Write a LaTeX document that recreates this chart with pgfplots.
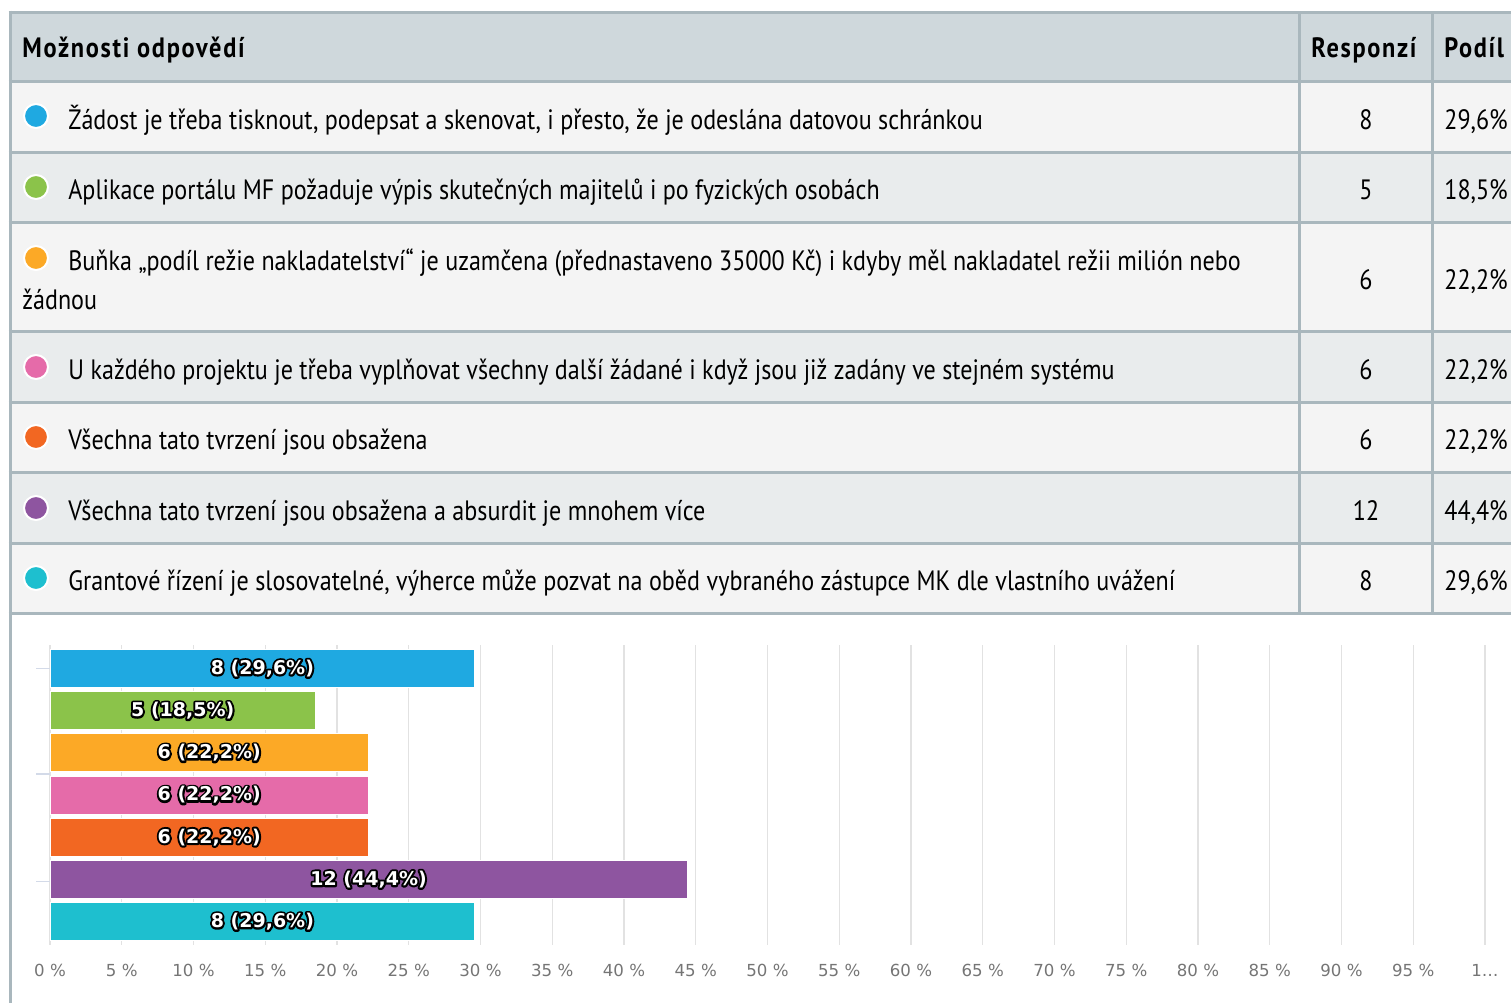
\documentclass[border=0pt]{standalone}
\usepackage{fontspec}
\usepackage{pgfplots}
\pgfplotsset{compat=1.18}
\setmainfont[FakeStretch=0.86]{PT Sans}
\newfontfamily\hdr[FakeStretch=0.87,LetterSpace=6]{PT Sans}
\newfontfamily\djv{DejaVu Sans}
\definecolor{cA}{HTML}{1FA9E1}
\definecolor{cB}{HTML}{8BC34A}
\definecolor{cC}{HTML}{FCA926}
\definecolor{cD}{HTML}{E56BA9}
\definecolor{cE}{HTML}{F26722}
\definecolor{cF}{HTML}{8E55A0}
\definecolor{cG}{HTML}{1EBFCF}
\definecolor{hdrbg}{HTML}{CFD8DC}
\definecolor{rowa}{HTML}{F4F4F4}
\definecolor{rowb}{HTML}{E9ECED}
\definecolor{bord}{HTML}{A9B7BD}
\definecolor{gridc}{HTML}{E2E2E2}
\definecolor{tickc}{HTML}{D3DAE8}
\definecolor{labc}{HTML}{757575}
\newcommand\lbl[1]{\djv\bfseries\makebox[0pt][l]{\special{pdf:literal direct 2 Tr 2 w 1 j}\textcolor{black}{#1}\special{pdf:literal direct 0 Tr}}\textcolor{white}{#1}}
\begin{document}
\begin{tikzpicture}
\begin{scope}[x=0.5pt,y=-0.5pt]
\useasboundingbox (0,0) rectangle (1511,1003);
% backgrounds
\fill[hdrbg] (10,12) rectangle (1511,81);
\fill[rowa] (10,81) rectangle (1511,152);
\fill[rowb] (10,152) rectangle (1511,222);
\fill[rowa] (10,222) rectangle (1511,331);
\fill[rowb] (10,331) rectangle (1511,402);
\fill[rowa] (10,402) rectangle (1511,472);
\fill[rowb] (10,472) rectangle (1511,543);
\fill[rowa] (10,543) rectangle (1511,613);
% borders
\foreach \yy in {12,81,152,222,331,402,472,543,613}{\draw[bord,line width=1.5pt] (8.5,\yy) -- (1511,\yy);}
\draw[bord,line width=1.5pt] (10,10.5) -- (10,1003);
\draw[bord,line width=1.5pt] (1299,12) -- (1299,613);
\draw[bord,line width=1.5pt] (1432,12) -- (1432,613);
% header
\node[anchor=base west,inner sep=0pt,font=\hdr\bfseries\fontsize{14pt}{16pt}\selectfont] at (22,57) {Možnosti odpovědí};
\node[anchor=base west,inner sep=0pt,font=\hdr\bfseries\fontsize{14pt}{16pt}\selectfont] at (1311,57) {Responzí};
\node[anchor=base west,inner sep=0pt,font=\hdr\bfseries\fontsize{14pt}{16pt}\selectfont] at (1444,57) {Podíl};
% rows
\foreach \cy/\col in {116/cA,187/cB,258/cC,367/cD,437/cE,508/cF,578/cG}{
  \fill[\col,draw=white,line width=1pt] (36,\cy) circle (12);}
\begin{scope}[every node/.style={anchor=base west,inner sep=0pt,font=\fontsize{14pt}{16pt}\selectfont}]
\node at (68,129) {Žádost je třeba tisknout, podepsat a skenovat, i přesto, že je odeslána datovou schránkou};
\node at (68,199) {Aplikace portálu MF požaduje výpis skutečných majitelů i po fyzických osobách};
\node at (68,270) {Buňka „podíl režie nakladatelství“ je uzamčena (přednastaveno 35000 Kč) i kdyby měl nakladatel režii milión nebo};
\node at (22,309) {žádnou};
\node at (68,379) {U každého projektu je třeba vyplňovat všechny další žádané i když jsou již zadány ve stejném systému};
\node at (68,449) {Všechna tato tvrzení jsou obsažena};
\node at (68,520) {Všechna tato tvrzení jsou obsažena a absurdit je mnohem více};
\node at (68,590) {Grantové řízení je slosovatelné, výherce může pozvat na oběd vybraného zástupce MK dle vlastního uvážení};
\foreach \yy/\pc in {129/{29,6\%},199/{18,5\%},289/{22,2\%},379/{22,2\%},449/{22,2\%},520/{44,4\%},590/{29,6\%}}{
  \node at (1444,\yy) {\pc};}
\end{scope}
\begin{scope}[every node/.style={anchor=base,inner sep=0pt,font=\fontsize{14pt}{16pt}\selectfont}]
\foreach \yy/\n in {129/8,199/5,289/6,379/6,449/6,520/12,590/8}{
  \node at (1366,\yy) {\n};}
\end{scope}
\end{scope}
\begin{axis}[
  at={(25pt,-472.5pt)}, anchor=south west,
  scale only axis, width=717.5pt, height=150pt,
  xmin=0, xmax=100, ymin=-0.555, ymax=6.555, y dir=reverse,
  axis line style={draw=none},
  xtick={0,5,10,15,20,25,30,35,40,45,50,55,60,65,70,75,80,85,90,95,100},
  xticklabels={0 \%,5 \%,10 \%,15 \%,20 \%,25 \%,30 \%,35 \%,40 \%,45 \%,50 \%,55 \%,60 \%,65 \%,70 \%,75 \%,80 \%,85 \%,90 \%,95 \%,1\ldots},
  xticklabel style={font=\djv\fontsize{8.3pt}{10pt}\selectfont, text=labc, anchor=north, yshift=1pt},
  xtick style={draw=none},
  xmajorgrids, grid style={gridc, line width=0.6pt},
  ytick={0,2.5,5.05}, yticklabels={},
  ytick pos=left, tick align=outside,
  ytick style={tickc, line width=0.8pt},
  major tick length=7pt,
  clip=false,
]
\addplot[xbar, bar shift=0pt, bar width=0.9, fill=cA, draw=white, line width=0.4pt] coordinates {(29.6,0)};
\addplot[xbar, bar shift=0pt, bar width=0.9, fill=cB, draw=white, line width=0.4pt] coordinates {(18.5,1)};
\addplot[xbar, bar shift=0pt, bar width=0.9, fill=cC, draw=white, line width=0.4pt] coordinates {(22.2,2)};
\addplot[xbar, bar shift=0pt, bar width=0.9, fill=cD, draw=white, line width=0.4pt] coordinates {(22.2,3)};
\addplot[xbar, bar shift=0pt, bar width=0.9, fill=cE, draw=white, line width=0.4pt] coordinates {(22.2,4)};
\addplot[xbar, bar shift=0pt, bar width=0.9, fill=cF, draw=white, line width=0.4pt] coordinates {(44.4,5)};
\addplot[xbar, bar shift=0pt, bar width=0.9, fill=cG, draw=white, line width=0.4pt] coordinates {(29.6,6)};
\begin{scope}[every node/.style={inner sep=0pt,font=\fontsize{9.5pt}{11pt}\selectfont}]
\node at (axis cs:14.8,0) {\lbl{8 (29,6\%)}};
\node at (axis cs:9.25,1) {\lbl{5 (18,5\%)}};
\node at (axis cs:11.1,2) {\lbl{6 (22,2\%)}};
\node at (axis cs:11.1,3) {\lbl{6 (22,2\%)}};
\node at (axis cs:11.1,4) {\lbl{6 (22,2\%)}};
\node at (axis cs:22.2,5) {\lbl{12 (44,4\%)}};
\node at (axis cs:14.8,6) {\lbl{8 (29,6\%)}};
\end{scope}
\end{axis}
\end{tikzpicture}
\end{document}
